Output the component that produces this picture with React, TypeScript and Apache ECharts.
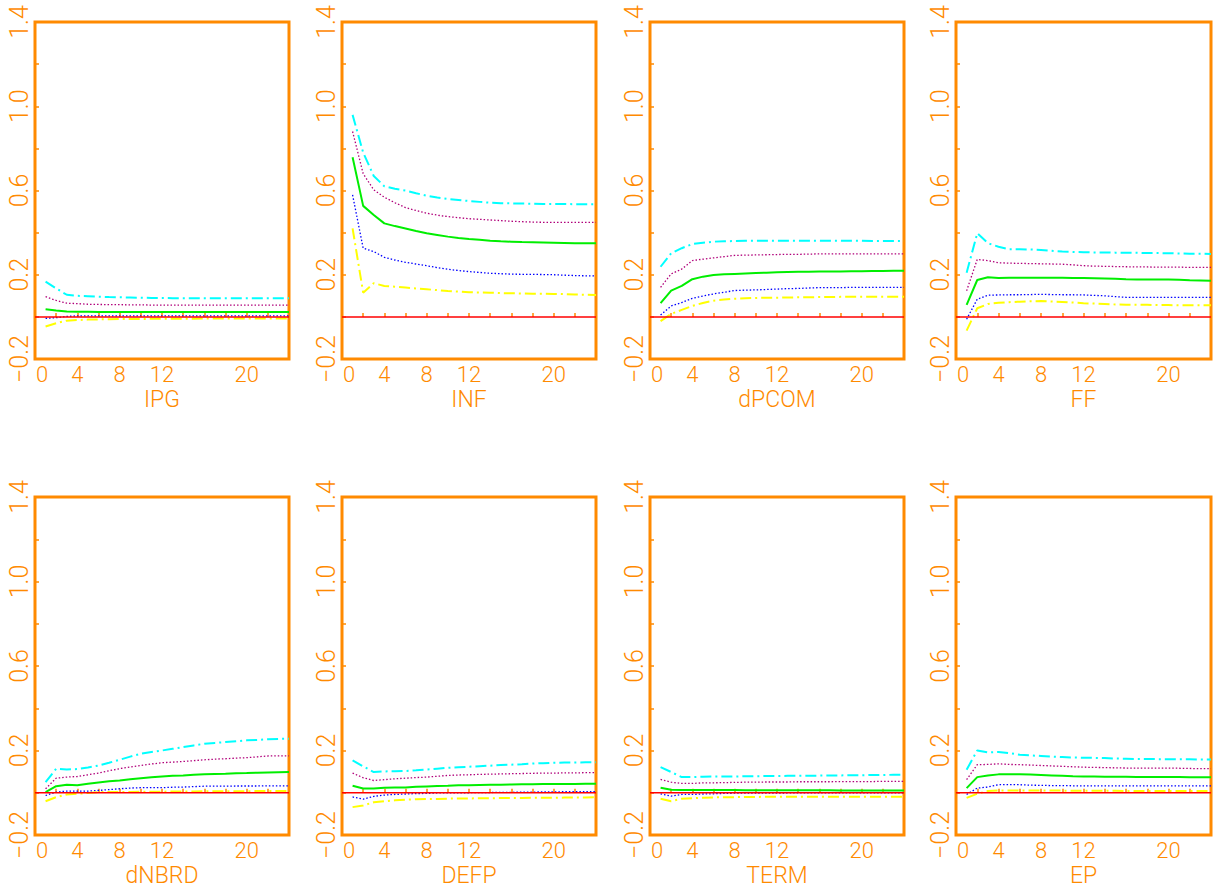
import React, { useEffect, useRef } from 'react';
import * as echarts from 'echarts';

// Impulse-response horizons (x values)
const HORIZONS = [1, 2, 3, 4, 5, 6, 7, 8, 9, 10, 11, 12, 13, 14, 15, 16, 17, 18, 19, 20, 21, 22, 23, 24];
const VARIABLES = ['IPG', 'INF', 'dPCOM', 'FF', 'dNBRD', 'DEFP', 'TERM', 'EP'];
const X_TICK_LABELS = [0, 4, 8, 12, 20];
const Y_TICK_LABELS = [-0.2, 0.2, 0.6, 1.0, 1.4];

// Bands per variable: upper (cyan), upper-inner (purple), median (green), lower-inner (blue), lower (yellow)
const IPG_CYAN = [0.167, 0.135, 0.105, 0.1, 0.098, 0.096, 0.094, 0.093, 0.092, 0.091, 0.09, 0.09, 0.089, 0.089, 0.089, 0.088, 0.088, 0.088, 0.088, 0.088, 0.088, 0.088, 0.088, 0.088];
const IPG_PURPLE = [0.096, 0.078, 0.065, 0.063, 0.06, 0.059, 0.058, 0.058, 0.057, 0.057, 0.056, 0.056, 0.056, 0.056, 0.056, 0.056, 0.056, 0.056, 0.056, 0.056, 0.056, 0.056, 0.056, 0.056];
const IPG_GREEN = [0.036, 0.03, 0.025, 0.024, 0.024, 0.023, 0.023, 0.023, 0.023, 0.023, 0.023, 0.023, 0.023, 0.023, 0.023, 0.023, 0.023, 0.023, 0.023, 0.023, 0.023, 0.023, 0.023, 0.023];
const IPG_BLUE = [-0.007, -0.004, 0.002, 0.005, 0.005, 0.005, 0.005, 0.005, 0.005, 0.005, 0.005, 0.005, 0.005, 0.005, 0.005, 0.005, 0.005, 0.005, 0.005, 0.005, 0.005, 0.005, 0.005, 0.005];
const IPG_YELLOW = [-0.046, -0.03, -0.018, -0.015, -0.013, -0.012, -0.011, -0.01, -0.01, -0.01, -0.009, -0.009, -0.009, -0.009, -0.009, -0.008, -0.008, -0.008, -0.008, -0.008, -0.008, -0.008, -0.008, -0.008];

const INF_CYAN = [0.959, 0.78, 0.669, 0.62, 0.608, 0.6, 0.587, 0.575, 0.567, 0.56, 0.555, 0.55, 0.546, 0.542, 0.54, 0.539, 0.538, 0.537, 0.536, 0.536, 0.536, 0.535, 0.535, 0.535];
const INF_PURPLE = [0.88, 0.68, 0.603, 0.568, 0.542, 0.519, 0.505, 0.492, 0.483, 0.476, 0.471, 0.466, 0.463, 0.46, 0.457, 0.454, 0.452, 0.45, 0.449, 0.449, 0.449, 0.449, 0.449, 0.449];
const INF_GREEN = [0.758, 0.527, 0.484, 0.444, 0.431, 0.42, 0.408, 0.397, 0.389, 0.381, 0.375, 0.37, 0.366, 0.362, 0.359, 0.357, 0.355, 0.354, 0.353, 0.352, 0.351, 0.35, 0.35, 0.349];
const INF_BLUE = [0.579, 0.326, 0.31, 0.283, 0.27, 0.259, 0.251, 0.243, 0.234, 0.226, 0.22, 0.215, 0.211, 0.207, 0.205, 0.203, 0.202, 0.202, 0.201, 0.2, 0.198, 0.196, 0.195, 0.194];
const INF_YELLOW = [0.42, 0.115, 0.16, 0.147, 0.143, 0.139, 0.135, 0.131, 0.127, 0.123, 0.12, 0.117, 0.116, 0.115, 0.113, 0.112, 0.111, 0.11, 0.11, 0.109, 0.108, 0.106, 0.105, 0.104];

const DPCOM_CYAN = [0.238, 0.302, 0.326, 0.346, 0.352, 0.357, 0.359, 0.36, 0.361, 0.361, 0.362, 0.362, 0.362, 0.362, 0.362, 0.362, 0.361, 0.361, 0.361, 0.361, 0.36, 0.36, 0.36, 0.36];
const DPCOM_PURPLE = [0.14, 0.204, 0.227, 0.267, 0.274, 0.28, 0.286, 0.292, 0.293, 0.294, 0.295, 0.296, 0.297, 0.297, 0.298, 0.299, 0.299, 0.299, 0.299, 0.299, 0.299, 0.299, 0.299, 0.299];
const DPCOM_GREEN = [0.065, 0.125, 0.147, 0.179, 0.191, 0.199, 0.202, 0.204, 0.206, 0.208, 0.21, 0.212, 0.213, 0.214, 0.214, 0.215, 0.216, 0.216, 0.217, 0.217, 0.218, 0.218, 0.219, 0.219];
const DPCOM_BLUE = [0.009, 0.052, 0.068, 0.088, 0.099, 0.109, 0.117, 0.125, 0.127, 0.128, 0.13, 0.132, 0.134, 0.135, 0.137, 0.139, 0.139, 0.139, 0.14, 0.14, 0.14, 0.14, 0.14, 0.14];
const DPCOM_YELLOW = [-0.02, 0.014, 0.033, 0.052, 0.066, 0.077, 0.082, 0.086, 0.088, 0.09, 0.091, 0.091, 0.092, 0.093, 0.093, 0.094, 0.094, 0.095, 0.095, 0.095, 0.096, 0.096, 0.096, 0.096];

const FF_CYAN = [0.21, 0.397, 0.35, 0.333, 0.321, 0.321, 0.32, 0.318, 0.314, 0.31, 0.308, 0.307, 0.306, 0.306, 0.305, 0.305, 0.304, 0.303, 0.303, 0.302, 0.301, 0.3, 0.3, 0.299];
const FF_PURPLE = [0.124, 0.273, 0.267, 0.257, 0.255, 0.254, 0.253, 0.252, 0.251, 0.25, 0.247, 0.243, 0.241, 0.24, 0.239, 0.238, 0.237, 0.237, 0.236, 0.236, 0.236, 0.235, 0.235, 0.235];
const FF_GREEN = [0.057, 0.175, 0.188, 0.185, 0.186, 0.186, 0.186, 0.186, 0.186, 0.186, 0.185, 0.184, 0.183, 0.182, 0.181, 0.179, 0.178, 0.178, 0.177, 0.177, 0.176, 0.174, 0.173, 0.172];
const FF_BLUE = [-0.011, 0.084, 0.103, 0.104, 0.105, 0.105, 0.106, 0.107, 0.106, 0.105, 0.105, 0.104, 0.102, 0.1, 0.096, 0.093, 0.093, 0.093, 0.093, 0.093, 0.093, 0.093, 0.093, 0.093];
const FF_YELLOW = [-0.065, 0.041, 0.061, 0.067, 0.07, 0.072, 0.074, 0.075, 0.073, 0.071, 0.068, 0.065, 0.063, 0.061, 0.059, 0.058, 0.057, 0.057, 0.056, 0.056, 0.055, 0.055, 0.055, 0.055];

const DNBRD_CYAN = [0.05, 0.114, 0.11, 0.112, 0.12, 0.129, 0.142, 0.156, 0.171, 0.185, 0.193, 0.2, 0.208, 0.216, 0.224, 0.232, 0.236, 0.24, 0.244, 0.248, 0.25, 0.253, 0.255, 0.256];
const DNBRD_PURPLE = [0.019, 0.069, 0.074, 0.077, 0.085, 0.093, 0.104, 0.114, 0.122, 0.129, 0.136, 0.142, 0.145, 0.148, 0.152, 0.156, 0.159, 0.161, 0.164, 0.166, 0.17, 0.174, 0.175, 0.175];
const DNBRD_GREEN = [0.003, 0.031, 0.038, 0.036, 0.043, 0.049, 0.054, 0.058, 0.064, 0.069, 0.073, 0.077, 0.08, 0.082, 0.085, 0.087, 0.089, 0.09, 0.092, 0.093, 0.095, 0.096, 0.097, 0.098];
const DNBRD_BLUE = [-0.013, 0.003, 0.008, 0.008, 0.008, 0.011, 0.015, 0.019, 0.022, 0.024, 0.024, 0.024, 0.026, 0.027, 0.029, 0.031, 0.031, 0.031, 0.032, 0.032, 0.032, 0.033, 0.033, 0.033];
const DNBRD_YELLOW = [-0.04, -0.021, -0.008, -0.005, -0.001, 0.003, 0.003, 0.004, 0.004, 0.005, 0.005, 0.005, 0.006, 0.006, 0.006, 0.007, 0.007, 0.007, 0.007, 0.007, 0.008, 0.008, 0.008, 0.008];

const DEFP_CYAN = [0.153, 0.125, 0.098, 0.101, 0.102, 0.103, 0.106, 0.11, 0.114, 0.118, 0.121, 0.123, 0.126, 0.128, 0.131, 0.133, 0.135, 0.138, 0.14, 0.142, 0.143, 0.143, 0.144, 0.144];
const DEFP_PURPLE = [0.093, 0.071, 0.058, 0.062, 0.066, 0.069, 0.072, 0.074, 0.078, 0.082, 0.084, 0.085, 0.087, 0.088, 0.089, 0.09, 0.091, 0.092, 0.093, 0.093, 0.094, 0.094, 0.095, 0.095];
const DEFP_GREEN = [0.033, 0.02, 0.02, 0.024, 0.025, 0.025, 0.028, 0.03, 0.032, 0.033, 0.035, 0.036, 0.037, 0.038, 0.038, 0.039, 0.04, 0.04, 0.041, 0.041, 0.042, 0.042, 0.043, 0.043];
const DEFP_BLUE = [-0.02, -0.03, -0.017, -0.011, -0.008, -0.006, -0.004, -0.003, -0.001, 0, 0, 0, 0.001, 0.001, 0.002, 0.002, 0.003, 0.003, 0.004, 0.004, 0.005, 0.005, 0.005, 0.005];
const DEFP_YELLOW = [-0.068, -0.06, -0.045, -0.04, -0.036, -0.033, -0.031, -0.03, -0.029, -0.028, -0.027, -0.027, -0.026, -0.026, -0.025, -0.025, -0.025, -0.024, -0.024, -0.024, -0.023, -0.022, -0.022, -0.021];

const TERM_CYAN = [0.121, 0.098, 0.074, 0.074, 0.076, 0.077, 0.077, 0.077, 0.078, 0.078, 0.079, 0.079, 0.08, 0.08, 0.081, 0.081, 0.082, 0.082, 0.083, 0.083, 0.084, 0.084, 0.085, 0.085];
const TERM_PURPLE = [0.063, 0.05, 0.044, 0.044, 0.047, 0.047, 0.048, 0.049, 0.05, 0.05, 0.051, 0.051, 0.051, 0.052, 0.052, 0.052, 0.052, 0.053, 0.053, 0.053, 0.053, 0.054, 0.054, 0.054];
const TERM_GREEN = [0.024, 0.014, 0.013, 0.013, 0.013, 0.013, 0.013, 0.013, 0.012, 0.012, 0.012, 0.012, 0.012, 0.012, 0.012, 0.012, 0.012, 0.011, 0.011, 0.011, 0.011, 0.011, 0.011, 0.011];
const TERM_BLUE = [-0.005, -0.016, -0.008, -0.008, -0.006, -0.005, -0.003, -0.002, -0.002, -0.002, -0.002, -0.002, -0.001, -0.001, -0.001, -0.001, -0.001, -0.001, 0, 0, 0, 0, 0, 0];
const TERM_YELLOW = [-0.028, -0.04, -0.028, -0.026, -0.024, -0.022, -0.021, -0.021, -0.02, -0.02, -0.019, -0.019, -0.019, -0.019, -0.019, -0.019, -0.019, -0.019, -0.019, -0.019, -0.019, -0.019, -0.019, -0.019];

const EP_CYAN = [0.109, 0.2, 0.191, 0.193, 0.188, 0.18, 0.177, 0.174, 0.171, 0.169, 0.167, 0.166, 0.165, 0.164, 0.162, 0.161, 0.16, 0.16, 0.159, 0.159, 0.158, 0.158, 0.157, 0.157];
const EP_PURPLE = [0.062, 0.133, 0.134, 0.137, 0.134, 0.133, 0.131, 0.129, 0.127, 0.125, 0.123, 0.121, 0.12, 0.119, 0.118, 0.117, 0.117, 0.117, 0.117, 0.117, 0.116, 0.115, 0.114, 0.114];
const EP_GREEN = [0.022, 0.074, 0.082, 0.087, 0.087, 0.087, 0.086, 0.084, 0.082, 0.08, 0.078, 0.077, 0.077, 0.076, 0.076, 0.076, 0.075, 0.075, 0.074, 0.074, 0.074, 0.073, 0.073, 0.073];
const EP_BLUE = [-0.008, 0.022, 0.027, 0.038, 0.038, 0.038, 0.036, 0.035, 0.034, 0.034, 0.033, 0.033, 0.033, 0.033, 0.033, 0.033, 0.033, 0.033, 0.033, 0.033, 0.033, 0.033, 0.033, 0.033];
const EP_YELLOW = [-0.024, -0.005, 0.008, 0.011, 0.011, 0.011, 0.011, 0.011, 0.011, 0.01, 0.01, 0.009, 0.009, 0.009, 0.009, 0.008, 0.008, 0.008, 0.008, 0.008, 0.008, 0.008, 0.008, 0.008];

const PANEL_BANDS = [
  [IPG_CYAN, IPG_PURPLE, IPG_GREEN, IPG_BLUE, IPG_YELLOW],
  [INF_CYAN, INF_PURPLE, INF_GREEN, INF_BLUE, INF_YELLOW],
  [DPCOM_CYAN, DPCOM_PURPLE, DPCOM_GREEN, DPCOM_BLUE, DPCOM_YELLOW],
  [FF_CYAN, FF_PURPLE, FF_GREEN, FF_BLUE, FF_YELLOW],
  [DNBRD_CYAN, DNBRD_PURPLE, DNBRD_GREEN, DNBRD_BLUE, DNBRD_YELLOW],
  [DEFP_CYAN, DEFP_PURPLE, DEFP_GREEN, DEFP_BLUE, DEFP_YELLOW],
  [TERM_CYAN, TERM_PURPLE, TERM_GREEN, TERM_BLUE, TERM_YELLOW],
  [EP_CYAN, EP_PURPLE, EP_GREEN, EP_BLUE, EP_YELLOW],
];

const ORANGE = '#FF8A00';
const FONT = 'Roboto, "Liberation Sans", sans-serif';
const X_LABEL_SIZE = 22;
const Y_LABEL_SIZE = 25;
const NAME_SIZE = 23;
const BAND_STYLES = [
  { color: '#00FFFF', width: 2, type: [11, 4, 2, 4] },
  { color: '#B0007A', width: 1.3, type: [1.5, 2] },
  { color: '#00EE00', width: 2, type: 'solid' },
  { color: '#0000FF', width: 1.3, type: [1.5, 2] },
  { color: '#FFFF00', width: 2, type: [11, 4, 2, 4] },
];

const COL_LEFTS = [35, 342, 650, 956];
const COL_WIDTHS = [254, 254, 254, 255];
const ROW_TOPS = [22, 497];
const ROW_HEIGHTS = [337, 338];

function buildOption() {
  const grid: any[] = [];
  const xAxis: any[] = [];
  const yAxis: any[] = [];
  const series: any[] = [];
  VARIABLES.forEach((name, i) => {
    const row = Math.floor(i / 4);
    const col = i % 4;
    grid.push({
      left: COL_LEFTS[col],
      top: ROW_TOPS[row],
      width: COL_WIDTHS[col],
      height: ROW_HEIGHTS[row],
      show: true,
      borderColor: ORANGE,
      borderWidth: 3,
      backgroundColor: 'transparent',
    });
    xAxis.push({
      gridIndex: i,
      type: 'value',
      min: 0,
      max: 24,
      interval: 2,
      name,
      nameLocation: 'middle',
      nameGap: 29,
      nameTextStyle: { color: ORANGE, fontSize: NAME_SIZE, fontFamily: FONT, fontWeight: 300 },
      axisLine: { show: false },
      axisTick: { show: true, inside: true, length: 4, lineStyle: { color: ORANGE, width: 1.5 } },
      splitLine: { show: false },
      axisLabel: {
        color: ORANGE,
        fontSize: X_LABEL_SIZE,
        fontFamily: FONT,
        fontWeight: 300,
        margin: 4,
        showMinLabel: true,
        showMaxLabel: true,
        formatter: (v: number) => {
          if (!X_TICK_LABELS.includes(v)) return '';
          return v === 0 ? '{z|0}' : String(v);
        },
        rich: {
          z: { color: ORANGE, fontSize: X_LABEL_SIZE, fontFamily: FONT, fontWeight: 300, padding: [0, 0, 0, 14] },
        },
      },
    });
    yAxis.push({
      gridIndex: i,
      type: 'value',
      min: -0.2,
      max: 1.4,
      interval: 0.2,
      axisLine: { show: false },
      axisTick: { show: true, inside: true, length: 4, lineStyle: { color: ORANGE, width: 1.5 } },
      splitLine: { show: false },
      axisLabel: {
        color: ORANGE,
        fontSize: Y_LABEL_SIZE,
        fontFamily: FONT,
        fontWeight: 300,
        rotate: 90,
        margin: 3,
        showMinLabel: true,
        showMaxLabel: true,
        formatter: (v: number) => {
          const hit = Y_TICK_LABELS.find((t) => Math.abs(t - v) < 1e-6);
          if (hit === undefined) return '';
          return hit < 0 ? '\u2212' + Math.abs(hit).toFixed(1) : hit.toFixed(1);
        },
      },
    });
    PANEL_BANDS[i].forEach((values, b) => {
      const st = BAND_STYLES[b];
      series.push({
        type: 'line',
        xAxisIndex: i,
        yAxisIndex: i,
        showSymbol: false,
        symbol: 'none',
        silent: true,
        data: HORIZONS.map((h, k) => [h, values[k]]),
        lineStyle: { color: st.color, width: st.width, type: st.type },
        z: 2,
      });
    });
    series.push({
      type: 'line',
      xAxisIndex: i,
      yAxisIndex: i,
      showSymbol: false,
      symbol: 'none',
      silent: true,
      data: [[0, 0], [24, 0]],
      lineStyle: { color: '#FF0000', width: 1.5 },
      z: 3,
    });
  });
  return { animation: false, backgroundColor: '#FFFFFF', grid, xAxis, yAxis, series };
}

export default function App() {
  const ref = useRef<HTMLDivElement>(null);
  useEffect(() => {
    if (!ref.current) return;
    const chart = echarts.init(ref.current, undefined, { renderer: 'svg' });
    chart.setOption(buildOption() as any);
    return () => chart.dispose();
  }, []);
  return (
    <div
      ref={ref}
      style={{ position: 'fixed', left: 0, top: 0, width: 1225, height: 892, background: '#fff' }}
    />
  );
}
